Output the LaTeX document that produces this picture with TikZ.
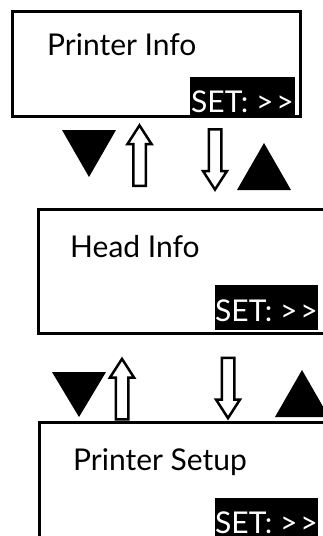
\documentclass[tikz,border=0pt]{standalone}
\usepackage{fontspec}
\setmainfont{Lato}

\begin{document}
\begin{tikzpicture}[
    x=1pt, y=-1pt,
    screen/.style={rectangle, draw, line width=3pt, inner sep=0pt, outer sep=0pt, anchor=north west},
    caption/.style={anchor=base west, inner sep=0pt, font=\fontsize{30}{30}\selectfont},
    setkey/.style={rectangle, fill=black, text=white, inner sep=0pt, outer sep=0pt, anchor=north west, text depth=0pt, font=\fontsize{30}{30}\selectfont},
    hollowup/.pic={\draw[line width=2.5pt, fill=white] (-6.25,30.75) -- (-6.25,-11) -- (-12,-11) -- (0,-29.6) -- (12,-11) -- (6.25,-11) -- (6.25,30.75) -- cycle;},
    solid/.style={fill=black}
]
\useasboundingbox (0,0) rectangle (323,536);
\clip (0,0) rectangle (323,536);

% Screen 1
\node[screen, minimum width=287.5pt, minimum height=105pt] (infoscreen) at (12.5,11.5) {};
\node[caption] (infolabel) at (47,55) {Printer Info};
\node[setkey, minimum width=105pt, minimum height=38pt, text height=32pt] (infoset) at (190,77) {SET: {>}\kern3pt{>}};

% Screen 2
\node[screen, minimum width=285.5pt, minimum height=124pt] (headscreen) at (38.5,209.5) {};
\node[caption] (headlabel) at (70,257) {Head Info};
\node[setkey, minimum width=103pt, minimum height=45pt, text height=28.4pt] (headset) at (215,285) {SET: {>}\kern3pt{>}};

% Screen 3
\node[screen, minimum width=284.5pt, minimum height=125pt] (setupscreen) at (39.5,422.5) {};
\node[caption] (setuplabel) at (73,470) {Printer Setup};
\node[setkey, minimum width=103pt, minimum height=45pt, text height=25pt] (setupset) at (215,498) {SET: {>}\kern3pt{>}};

% Keys between screen 1 and 2
\fill[solid] (62,130) -- (116,130) -- (89,177) -- cycle;
\pic at (139.5,155) {hollowup};
\pic[rotate=180] at (215,160) {hollowup};
\fill[solid] (237,190) -- (291,190) -- (264,143) -- cycle;

% Keys between screen 2 and 3
\fill[solid] (52,372) -- (106,372) -- (79,417) -- cycle;
\pic at (122,388.5) {hollowup};
\pic[rotate=180] at (228,388.5) {hollowup};
\fill[solid] (275,417) -- (329,417) -- (302,370) -- cycle;

\end{tikzpicture}
\end{document}
